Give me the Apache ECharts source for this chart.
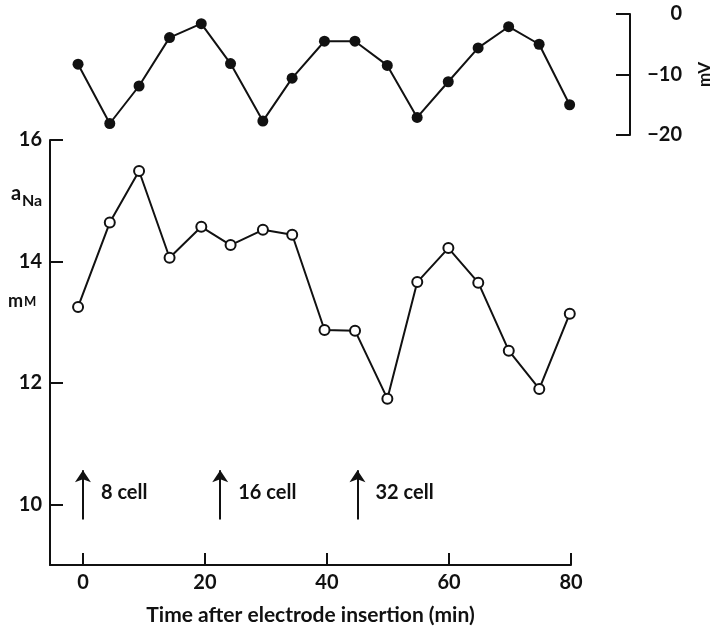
<!DOCTYPE html>
<html>
<head>
<meta charset="utf-8">
<script src="https://cdn.jsdelivr.net/npm/echarts@6/dist/echarts.min.js"></script>
<style>
  html, body { margin: 0; padding: 0; background: #fff; }
  #chart { width: 713px; height: 626px; }
</style>
</head>
<body>
<div id="chart"></div>
<script>
// sample times (min), same for both traces
const times = [-0.8, 4.4, 9.2, 14.2, 19.4, 24.2, 29.5, 34.3, 39.6, 44.6, 49.9, 54.8, 59.9, 64.8, 69.8, 74.8, 79.8];
// membrane potential (mV), filled circles
const potential = [-8.3, -18.1, -11.9, -3.9, -1.6, -8.2, -17.7, -10.6, -4.5, -4.5, -8.5, -17.1, -11.2, -5.6, -2.1, -5.0, -15.0];
// intracellular Na activity (mM), open circles
const aNa = [13.25, 14.64, 15.49, 14.06, 14.57, 14.27, 14.52, 14.44, 12.87, 12.86, 11.74, 13.66, 14.22, 13.65, 12.53, 11.90, 13.14];
// cleavage stage arrows
const arrowTimes = [0, 22.5, 45];
const arrowLabels = ['8 cell', '16 cell', '32 cell'];
const xTicks = [0, 20, 40, 60, 80];
const yTicks = [10, 12, 14, 16];

const font = 'Lato';
const ink = '#111';

const chart = echarts.init(document.getElementById('chart'));

const option = {
    animation: false,
    backgroundColor: '#fff',
    textStyle: { fontFamily: font, color: ink },
    grid: [
        { left: 50, top: 14, width: 580, height: 121, outerBoundsMode: 'none', containLabel: false },
        { left: 50, top: 140, width: 521, height: 425, outerBoundsMode: 'none', containLabel: false }
    ],
    xAxis: [
        { gridIndex: 0, type: 'value', min: -5.4, max: 89.7, show: false },
        {
            gridIndex: 1, type: 'value', min: -5.4, max: 80,
            axisLine: { onZero: false, lineStyle: { color: ink, width: 2 } },
            // negative length puts the custom ticks inside the plot
            axisTick: { inside: false, length: -12, customValues: xTicks, lineStyle: { color: ink, width: 2 } },
            axisLabel: { customValues: xTicks, margin: 8, fontSize: 20, fontWeight: 'bold', fontFamily: font, color: ink },
            splitLine: { show: false },
            name: 'Time after electrode insertion (min)',
            nameLocation: 'middle',
            nameGap: 40,
            nameTextStyle: { fontSize: 21, fontWeight: 'bold', fontFamily: font, color: ink }
        }
    ],
    yAxis: [
        {
            gridIndex: 0, type: 'value', position: 'right', min: -20, max: 0, interval: 10,
            axisLine: { show: true, onZero: false, lineStyle: { color: ink, width: 2 } },
            axisTick: { show: true, inside: true, length: 14, lineStyle: { color: ink, width: 2 } },
            axisLabel: {
                margin: 12,
                formatter: function (v) { return '{a|' + String(v).replace('-', '\u2212') + '}'; },
                rich: { a: { width: 40, align: 'right', fontSize: 20, fontWeight: 'bold', fontFamily: font, color: ink } }
            },
            splitLine: { show: false },
            name: 'mV',
            nameLocation: 'middle',
            nameRotate: 90,
            nameGap: 66,
            nameTextStyle: { fontSize: 17, fontWeight: 'bold', fontFamily: font, color: ink }
        },
        {
            gridIndex: 1, type: 'value', min: 9, max: 16,
            axisLine: { show: true, onZero: false, lineStyle: { color: ink, width: 2 } },
            axisTick: { show: true, inside: false, length: -13, customValues: yTicks, lineStyle: { color: ink, width: 2 } },
            axisLabel: { customValues: yTicks, margin: 8, fontSize: 20, fontWeight: 'bold', fontFamily: font, color: ink },
            splitLine: { show: false }
        }
    ],
    graphic: [
        { type: 'text', x: 11, y: 194, style: { text: 'a', font: 'bold 20px Lato', fill: ink, verticalAlign: 'middle' } },
        { type: 'text', x: 22, y: 201, style: { text: 'Na', font: 'bold 16px Lato', fill: ink, verticalAlign: 'middle' } },
        { type: 'text', x: 8, y: 301, style: { text: 'm', font: 'bold 18px Lato', fill: ink, verticalAlign: 'middle' } },
        { type: 'text', x: 24, y: 302, style: { text: 'M', font: 'bold 13px Lato', fill: ink, verticalAlign: 'middle' } }
    ],
    series: [
        {
            type: 'line', xAxisIndex: 0, yAxisIndex: 0,
            data: times.map((t, i) => [t, potential[i]]),
            symbol: 'circle', symbolSize: 11,
            itemStyle: { color: ink, borderColor: ink, borderWidth: 0 },
            lineStyle: { color: ink, width: 2 }
        },
        {
            type: 'line', xAxisIndex: 1, yAxisIndex: 1,
            data: times.map((t, i) => [t, aNa[i]]),
            symbol: 'circle', symbolSize: 10,
            itemStyle: { color: '#fff', borderColor: ink, borderWidth: 2 },
            lineStyle: { color: ink, width: 2 }
        },
        {
            type: 'lines', coordinateSystem: 'cartesian2d', xAxisIndex: 1, yAxisIndex: 1,
            data: arrowTimes.map(t => ({ coords: [[t, 9.75], [t, 10.56]] })),
            symbol: ['none', 'arrow'], symbolSize: 12,
            lineStyle: { color: ink, width: 2, opacity: 1 }
        },
        {
            type: 'scatter', xAxisIndex: 1, yAxisIndex: 1,
            data: arrowTimes.map((t, i) => ({ value: [t, 10.19], name: arrowLabels[i] })),
            symbolSize: 0,
            itemStyle: { opacity: 1 },
            label: {
                show: true, position: 'right', distance: 18, formatter: '{b}',
                fontSize: 20, fontWeight: 'bold', fontFamily: font, color: ink, opacity: 1
            }
        }
    ]
};

chart.setOption(option);
</script>
</body>
</html>
